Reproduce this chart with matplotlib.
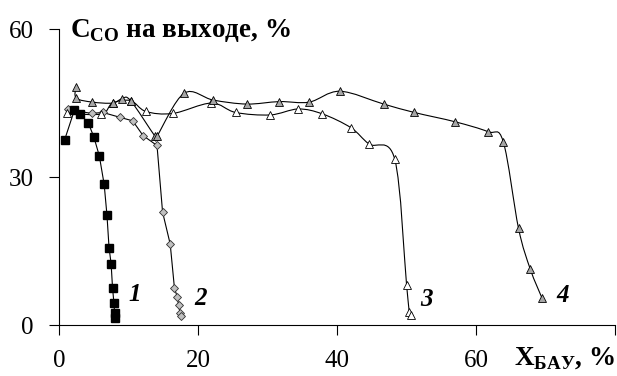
import numpy as np
import matplotlib
matplotlib.use("Agg")
import matplotlib.pyplot as plt
from matplotlib.path import Path
from matplotlib.patches import PathPatch

plt.rcParams['font.family'] = 'serif'
plt.rcParams['font.serif'] = ['Liberation Serif', 'DejaVu Serif']
plt.rcParams['mathtext.fontset'] = 'custom'
plt.rcParams['mathtext.rm'] = 'Liberation Serif:bold'
plt.rcParams['mathtext.bf'] = 'Liberation Serif:bold'

# curve 1 - black squares
x1 = [0.8, 2.2, 3.0, 4.2, 5.0, 5.8, 6.5, 6.9, 7.2, 7.5, 7.7, 7.9, 8.0, 8.0]
y1 = [37.5, 43.5, 42.8, 41.0, 38.2, 34.3, 28.5, 22.3, 15.7, 12.4, 7.6, 4.5, 2.4, 1.5]
# curve 2 - grey diamonds
x2 = [1.3, 4.7, 6.3, 8.8, 10.6, 12.1, 14.1, 14.9, 16.0, 16.6, 17.0, 17.2, 17.4, 17.6]
y2 = [43.7, 42.9, 43.1, 42.1, 41.4, 38.4, 36.4, 22.9, 16.4, 7.6, 5.7, 4.1, 2.5, 1.9]
# curve 3 - white triangles
x3 = [1.2, 6.1, 7.7, 10.3, 12.5, 16.4, 21.9, 25.4, 30.4, 34.4, 37.9, 42.0, 44.6, 48.3, 50.0, 50.4, 50.7]
y3 = [42.9, 42.8, 45.0, 45.5, 43.3, 42.9, 45.0, 43.1, 42.6, 43.8, 42.8, 40.0, 36.7, 33.6, 8.1, 2.7, 2.0]
# curve 4 - grey triangles
x4 = [2.4, 2.5, 4.8, 7.7, 9.1, 10.3, 13.8, 14.1, 18.0, 22.2, 27.0, 31.7, 36.0, 40.4, 46.7, 51.1, 57.0, 61.7, 63.9, 66.1, 67.8, 69.5]
y4 = [48.2, 46.0, 45.2, 45.0, 45.9, 45.5, 38.3, 38.3, 47.0, 45.6, 44.8, 45.3, 45.2, 47.4, 44.8, 43.1, 41.2, 39.2, 37.2, 19.6, 11.3, 5.4]

xticks = [0, 20, 40, 60, 80]
xticklabels = ['0', '20', '40', '60', '']
yticks = [0, 30, 60]


def smooth_path(x, y):
    # excel-like smoothed line: catmull-rom as cubic bezier segments
    p = np.column_stack([x, y]).astype(float)
    n = len(p)
    verts = [p[0]]
    codes = [Path.MOVETO]
    for i in range(n - 1):
        p0 = p[i - 1] if i > 0 else p[i]
        p3 = p[i + 2] if i + 2 < n else p[i + 1]
        c1 = p[i] + (p[i + 1] - p0) / 6.0
        c2 = p[i + 1] - (p3 - p[i]) / 6.0
        verts += [c1, c2, p[i + 1]]
        codes += [Path.CURVE4] * 3
    return Path(verts, codes)


fig = plt.figure(figsize=(6.17, 3.76), dpi=100)
ax = fig.add_axes([0.0956, 0.1356, 0.9014, 0.787])

ax.plot(x1, y1, color='black', lw=0.8, marker='s', ms=5.5, mfc='black', mec='black', zorder=5)
ax.plot(x2, y2, color='black', lw=0.8, marker='D', ms=3.8, mfc='#c0c0c0', mec='#303030', mew=0.6, zorder=4)

for xs, ys, fc in [(x3, y3, 'white'), (x4, y4, '#a6a6a6')]:
    ax.add_patch(PathPatch(smooth_path(xs, ys), fill=False, ec='black', lw=0.8, zorder=3))
    ax.plot(xs, ys, ls='none', marker='^', ms=5.5, mfc=fc, mec='black', mew=0.6, zorder=4)

ax.set_xlim(0, 80)
ax.set_ylim(0, 60)
ax.set_xticks(xticks)
ax.set_xticklabels(xticklabels)
ax.set_yticks(yticks)
ax.spines['top'].set_visible(False)
ax.spines['right'].set_visible(False)
ax.tick_params(axis='both', direction='out', length=7, width=0.8, labelsize=18)
ax.tick_params(axis='x', pad=11)
ax.tick_params(axis='y', pad=11)

lab = dict(fontsize=18, fontweight='bold', fontstyle='italic', ha='center', va='center')
ax.text(10.9, 6.1, '1', **lab)
ax.text(20.3, 5.3, '2', **lab)
ax.text(52.8, 5.1, '3', **lab)
ax.text(72.5, 5.9, '4', **lab)

fig.text(0.113, 0.902, r'C$_{\mathrm{CO}}$ на выходе, %', fontsize=19.5, fontweight='bold', ha='left', va='baseline')
fig.text(0.997, 0.03, r'X$_{\mathrm{БАУ}}$, %', fontsize=19.5, fontweight='bold', ha='right', va='baseline')

fig.savefig('out.png', dpi=100)
